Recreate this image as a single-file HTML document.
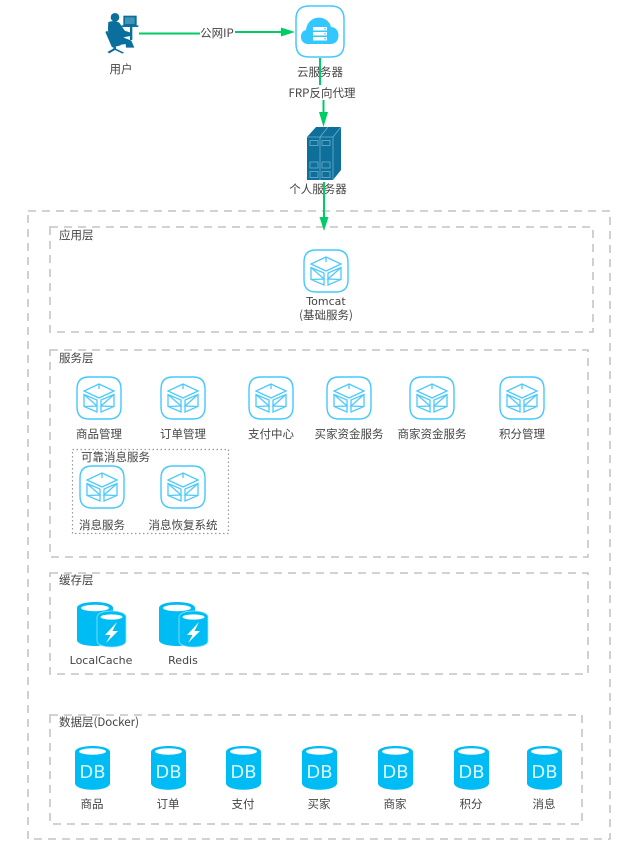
<!DOCTYPE html>
<html><head><meta charset="utf-8">
<style>
html,body{margin:0;padding:0;background:#fff}
svg{display:block;filter:blur(.25px)}
text{font-family:"DejaVu Sans","Noto Sans CJK SC",sans-serif;font-size:11px;fill:#444}
.z{font-family:"Noto Sans CJK SC",sans-serif;font-size:11.5px}
.c{text-anchor:middle}
.d{fill:none;stroke:#c4c4c4;stroke-width:1.6;stroke-dasharray:8 6}
.g{stroke:#00cc66;stroke-width:2;fill:none}
.a{fill:#00cc66}
</style></head><body>
<svg width="637" height="846" viewBox="0 0 637 846" xmlns="http://www.w3.org/2000/svg">
<defs>
<g id="cube" fill="none" stroke="#4cc9ff">
<path d="M13 1H33Q45 1 45 13V31Q45 43 33 43H13Q1 43 1 31V13Q1 1 13 1Z" stroke-width="1.400" stroke="#45c8ff"/>
<path d="M23 8L38 15L23 22L8 15Z M23 8V13 M8 18.500L21 24V36L8 30.500Z M38 18.500L25 24V36L38 30.500Z M8 18.500L21 30L8 30.500 M38 18.500L25 30L38 30.500" stroke-width="1.300"/>
</g>
<g id="db">
<path d="M0 7C0 -1 35 -1 35 7V38C35 47 0 47 0 38Z" fill="#00bcf5"/>
<ellipse cx="17.500" cy="6.500" rx="13.500" ry="3.200" fill="#fff"/>
<text x="17.500" y="33" class="c" style="font-size:18px;fill:#d8f6ff">DB</text>
</g>
<g id="cache">
<path d="M0 6C0 -2 36 -2 36 6V38C36 46 0 46 0 38Z" fill="#00bcf5"/>
<ellipse cx="18" cy="6" rx="14" ry="3.200" fill="#fff"/>
<path d="M20 15C20 7 49 7 49 15V39C49 47 20 47 20 39Z" fill="#00bcf5" stroke="#8fe4ff" stroke-width=".8"/>
<ellipse cx="34.500" cy="15" rx="11" ry="2.600" fill="#fff"/>
<path d="M40 20L28 33H33.500L29 41L41 29H35.500Z" fill="#fff"/>
</g>
</defs>

<!-- containers -->
<rect class="d" x="28" y="211" width="582" height="628"/>
<rect class="d" x="50" y="227" width="543" height="105"/>
<rect class="d" x="50" y="350" width="538" height="207"/>
<rect class="d" x="50" y="573" width="538" height="101"/>
<rect class="d" x="50" y="715" width="532" height="109"/>
<rect x="72.500" y="449.500" width="156" height="84" fill="none" stroke="#999" stroke-width="1.200" stroke-dasharray="1.500 2.500"/>

<!-- user -->
<g transform="translate(90 0) scale(.3333)">
<g fill="#0a6f9c">
<circle cx="75" cy="52" r="13"/>
<path d="M55 66Q72 60 88 68L104 92L122 98V108L100 112L124 122L130 136L133 143H108L107 132L70 138Q50 115 55 66Z"/>
<path d="M46 96L52 92L68 128L92 128V136L66 142Z"/>
<path d="M70 140H78V146L102 158L98 161L75 150L58 160L52 156L70 146Z"/>
<rect x="100" y="47" width="40" height="30"/>
<rect x="95" y="76" width="50" height="5"/>
<rect x="120" y="80" width="7" height="40"/>
</g>
<rect x="105" y="52" width="29" height="20" fill="#3f94b8"/>
</g>
<text x="121" y="73" class="c z">用户</text>

<!-- cloud server -->
<path d="M309 6H331Q344 6 344 19V44Q344 57 331 57H309Q296 57 296 44V19Q296 6 309 6Z" fill="#fff" stroke="#45c8ff" stroke-width="1.500"/>
<path d="M308 44C299 44 299 31 306 30C308 14 328 14 331 27C341 27 341 44 331 44Z" fill="#33c7ff"/>
<g fill="#fff"><rect x="313" y="27" width="14" height="3.500"/><rect x="313" y="32" width="14" height="3.500"/><rect x="313" y="37" width="14" height="3.500"/></g>
<g fill="#33c7ff"><circle cx="325" cy="28.800" r=".8"/><circle cx="325" cy="33.800" r=".8"/><circle cx="325" cy="38.800" r=".8"/></g>
<text x="320" y="76" class="c z">云服务器</text>

<!-- personal server -->
<path d="M307 137L316 127H341V170L333 180H307Z" fill="#0e6f9a"/>
<path d="M307 137H333L341 127M320 137L328 127M320 137V180M333 137V180" stroke="#6fb0cc" stroke-width=".8" fill="none"/>
<g fill="none" stroke="#6fb0cc" stroke-width=".8">
<rect x="310" y="140.500" width="8" height="5"/><rect x="322" y="140.500" width="8" height="5"/>
<rect x="310" y="162" width="8" height="6"/><rect x="322" y="162" width="8" height="6"/>
<rect x="310" y="171.500" width="8" height="6"/><rect x="322" y="171.500" width="8" height="6"/>
</g>
<text x="318" y="193" class="c z">个人服务器</text>

<!-- connectors -->
<path class="g" d="M139 33.500H200"/>
<path class="g" d="M235 32H282"/>
<path class="a" d="M295 32L281 27.500V36.500Z"/>
<path class="g" d="M320 58V85"/>
<path class="g" d="M323.500 100V115"/>
<path class="a" d="M323.500 127L319 112H328Z"/>
<path class="g" d="M324 182V220"/>
<path class="a" d="M324 231L319.500 217H328.500Z"/>
<text x="217" y="37" class="c z">公网IP</text>
<text x="322" y="97" class="c z">FRP反向代理</text>

<!-- app layer -->
<text x="59" y="239" class="z">应用层</text>
<use href="#cube" x="303" y="249"/>
<text x="326" y="305" class="c">Tomcat</text>
<text x="326" y="319" class="c z">(基础服务)</text>

<!-- service layer -->
<text x="59" y="362" class="z">服务层</text>
<use href="#cube" x="76" y="376"/>
<use href="#cube" x="160" y="376"/>
<use href="#cube" x="248" y="376"/>
<use href="#cube" x="326" y="376"/>
<use href="#cube" x="409" y="376"/>
<use href="#cube" x="499" y="376"/>
<text x="99" y="438" class="c z">商品管理</text>
<text x="183" y="438" class="c z">订单管理</text>
<text x="271" y="438" class="c z">支付中心</text>
<text x="349" y="438" class="c z">买家资金服务</text>
<text x="432" y="438" class="c z">商家资金服务</text>
<text x="522" y="438" class="c z">积分管理</text>
<text x="81" y="461" class="z">可靠消息服务</text>
<use href="#cube" x="79" y="465"/>
<use href="#cube" x="160" y="465"/>
<text x="102" y="529" class="c z">消息服务</text>
<text x="183" y="529" class="c z">消息恢复系统</text>

<!-- cache layer -->
<text x="59" y="584" class="z">缓存层</text>
<use href="#cache" x="77" y="602"/>
<use href="#cache" x="159" y="602"/>
<text x="101" y="664" class="c">LocalCache</text>
<text x="183" y="664" class="c">Redis</text>

<!-- data layer -->
<text x="59" y="726" class="z">数据层(Docker)</text>
<use href="#db" x="75" y="745"/>
<use href="#db" x="151" y="745"/>
<use href="#db" x="226" y="745"/>
<use href="#db" x="302" y="745"/>
<use href="#db" x="378" y="745"/>
<use href="#db" x="454" y="745"/>
<use href="#db" x="527" y="745"/>
<text x="92" y="808" class="c z">商品</text>
<text x="168" y="808" class="c z">订单</text>
<text x="243" y="808" class="c z">支付</text>
<text x="319" y="808" class="c z">买家</text>
<text x="395" y="808" class="c z">商家</text>
<text x="471" y="808" class="c z">积分</text>
<text x="544" y="808" class="c z">消息</text>
</svg>
</body></html>
